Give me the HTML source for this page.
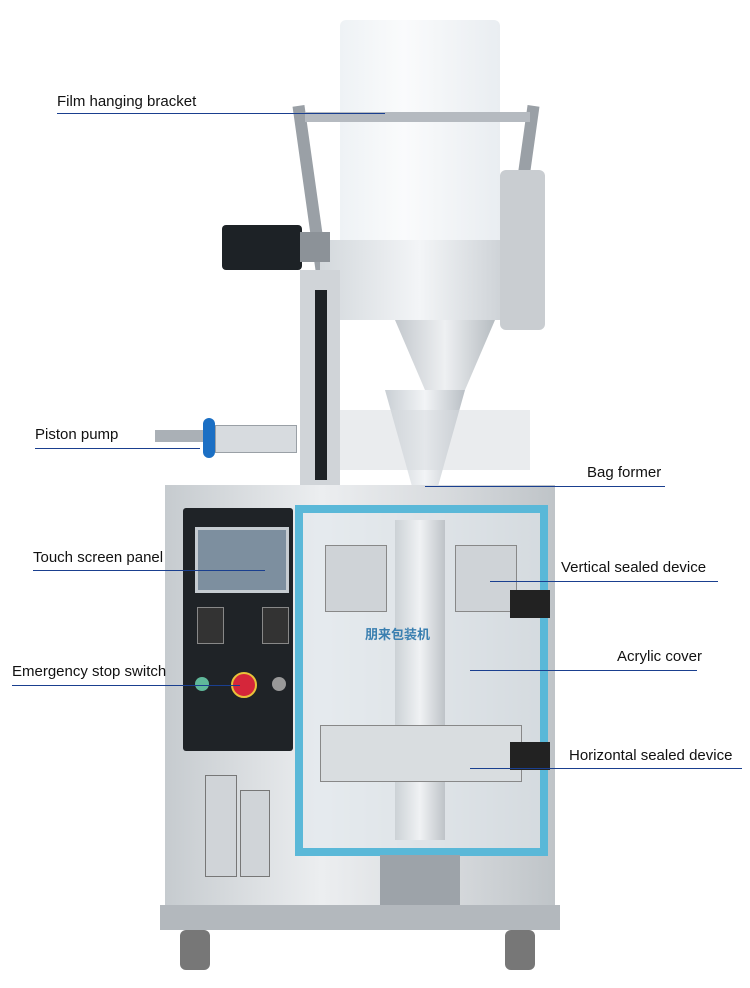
<!DOCTYPE html>
<html><head><meta charset="utf-8"><style>
html,body{margin:0;padding:0;background:#fff;}
#c{position:relative;width:750px;height:988px;overflow:hidden;font-family:"Liberation Sans","Noto Sans CJK SC",sans-serif;}
.a{position:absolute;}
.t{position:absolute;font-size:15px;color:#111;white-space:nowrap;}
.l{position:absolute;height:1px;background:#1a3f8f;}
</style></head><body><div id="c">
<div class="a" style="left:340px;top:20px;width:160px;height:225px;background:linear-gradient(90deg,#eef2f5,#fafbfc 40%,#e9edf1);border-radius:6px;"></div>
<div class="a" style="left:305px;top:105px;width:12px;height:180px;background:#9aa0a6;transform:rotate(-8deg);"></div>
<div class="a" style="left:515px;top:105px;width:12px;height:180px;background:#9aa0a6;transform:rotate(8deg);"></div>
<div class="a" style="left:305px;top:112px;width:225px;height:10px;background:#b5bac0;"></div>
<div class="a" style="left:320px;top:240px;width:200px;height:80px;background:linear-gradient(90deg,#d3d8dc,#f3f5f7,#c6cbd0);"></div>
<div class="a" style="left:500px;top:170px;width:45px;height:160px;background:#c9cdd1;border-radius:6px;"></div>
<div class="a" style="left:395px;top:320px;width:100px;height:70px;background:linear-gradient(90deg,#c3c8cd,#eef0f2,#b6bcc1);clip-path:polygon(0 0,100% 0,70% 100%,30% 100%);"></div>
<div class="a" style="left:222px;top:225px;width:80px;height:45px;background:#1d2226;border-radius:4px;"></div>
<div class="a" style="left:300px;top:232px;width:30px;height:30px;background:#8c9298;"></div>
<div class="a" style="left:300px;top:270px;width:40px;height:215px;background:#d0d4d8;"></div>
<div class="a" style="left:315px;top:290px;width:12px;height:190px;background:#1e2226;"></div>
<div class="a" style="left:155px;top:430px;width:55px;height:12px;background:#aab0b6;"></div>
<div class="a" style="left:203px;top:418px;width:12px;height:40px;background:#1b6fc4;border-radius:6px;"></div>
<div class="a" style="left:215px;top:425px;width:80px;height:26px;background:#d7dbdf;border:1px solid #9aa0a6;"></div>
<div class="a" style="left:385px;top:390px;width:80px;height:100px;background:linear-gradient(90deg,#c9cfd4,#f2f4f6,#b9bfc5);clip-path:polygon(0 0,100% 0,65% 100%,35% 100%);"></div>
<div class="a" style="left:340px;top:410px;width:190px;height:60px;background:#d5d9dd;opacity:.5;"></div>
<div class="a" style="left:165px;top:485px;width:390px;height:425px;background:linear-gradient(90deg,#c6cbcf,#eceef0 40%,#d9dcdf 70%,#bfc4c8);"></div>
<div class="a" style="left:183px;top:508px;width:110px;height:243px;background:#1f2327;border-radius:3px;"></div>
<div class="a" style="left:195px;top:527px;width:88px;height:60px;background:#7d8f9f;border:3px solid #c6ccd1;"></div>
<div class="a" style="left:197px;top:607px;width:25px;height:35px;background:#333;border:1px solid #888;"></div>
<div class="a" style="left:262px;top:607px;width:25px;height:35px;background:#333;border:1px solid #888;"></div>
<div class="a" style="left:195px;top:677px;width:14px;height:14px;border-radius:50%;background:#5fb89a;"></div>
<div class="a" style="left:231px;top:672px;width:22px;height:22px;border-radius:50%;background:#d5263a;border:2px solid #e8c23a;"></div>
<div class="a" style="left:272px;top:677px;width:14px;height:14px;border-radius:50%;background:#999;"></div>
<div class="a" style="left:295px;top:505px;width:237px;height:335px;border:8px solid #5ab8d8;background:rgba(225,232,236,.6);"></div>
<div class="a" style="left:395px;top:520px;width:50px;height:320px;background:linear-gradient(90deg,#ccd2d6,#f0f2f4,#bec3c8);"></div>
<div class="a" style="left:325px;top:545px;width:60px;height:65px;background:#cfd3d7;border:1px solid #888;"></div>
<div class="a" style="left:455px;top:545px;width:60px;height:65px;background:#cfd3d7;border:1px solid #888;"></div>
<div class="a" style="left:320px;top:725px;width:200px;height:55px;background:#d9dde0;border:1px solid #888;"></div>
<div class="a" style="left:510px;top:590px;width:40px;height:28px;background:#222;"></div>
<div class="a" style="left:510px;top:742px;width:40px;height:28px;background:#222;"></div>
<div class="a" style="left:365px;top:624px;font-size:13px;color:#3a7fb0;font-weight:bold;">朋来包装机</div>
<div class="a" style="left:205px;top:775px;width:30px;height:100px;background:#d0d4d8;border:1px solid #777;"></div>
<div class="a" style="left:240px;top:790px;width:28px;height:85px;background:#d0d4d8;border:1px solid #777;"></div>
<div class="a" style="left:380px;top:855px;width:80px;height:55px;background:#9da3a9;"></div>
<div class="a" style="left:160px;top:905px;width:400px;height:25px;background:#b3b8bd;"></div>
<div class="a" style="left:180px;top:930px;width:30px;height:40px;background:#777;border-radius:6px;"></div>
<div class="a" style="left:505px;top:930px;width:30px;height:40px;background:#777;border-radius:6px;"></div>
<div class="t" style="left:57px;top:93px;">Film hanging bracket</div><div class="l" style="left:57px;top:113px;width:328px;"></div>
<div class="t" style="left:35px;top:426px;">Piston pump</div><div class="l" style="left:35px;top:448px;width:165px;"></div>
<div class="t" style="left:587px;top:464px;">Bag former</div><div class="l" style="left:425px;top:486px;width:240px;"></div>
<div class="t" style="left:33px;top:549px;">Touch screen panel</div><div class="l" style="left:33px;top:570px;width:232px;"></div>
<div class="t" style="left:561px;top:559px;">Vertical sealed device</div><div class="l" style="left:490px;top:581px;width:228px;"></div>
<div class="t" style="left:617px;top:648px;">Acrylic cover</div><div class="l" style="left:470px;top:670px;width:227px;"></div>
<div class="t" style="left:12px;top:663px;">Emergency stop switch</div><div class="l" style="left:12px;top:685px;width:228px;"></div>
<div class="t" style="left:569px;top:747px;">Horizontal sealed device</div><div class="l" style="left:470px;top:768px;width:272px;"></div>
</div></body></html>
